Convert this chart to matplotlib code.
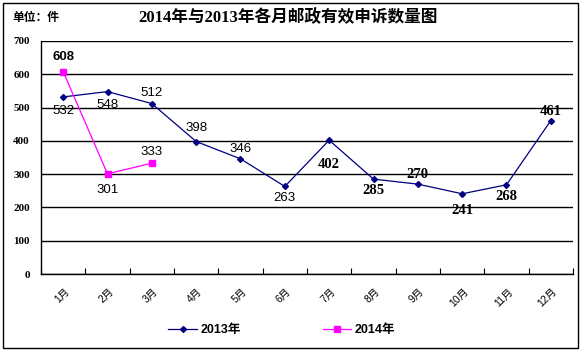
import matplotlib
matplotlib.use("Agg")
import matplotlib.pyplot as plt
from matplotlib.patches import Rectangle

# -------------------------------
# Datos
# -------------------------------
months = ["1月", "2月", "3月", "4月", "5月", "6月", "7月", "8月", "9月", "10月", "11月", "12月"]
v2013 = [532, 548, 512, 398, 346, 263, 402, 285, 270, 241, 268, 461]
v2014 = [608, 301, 333]
yticks = [0, 100, 200, 300, 400, 500, 600, 700]

# label offsets (pixels): + above, - below
off2013 = [-14, -13, 11, 14, 10, -12, -24, -11, 10, -17, -12, 9]
off2014 = [15, -16, 11]

plt.rcParams['font.family'] = ['Liberation Sans', 'Noto Sans CJK SC']

fig = plt.figure(figsize=(5.81, 3.51), dpi=100)
ax = fig.add_axes([41 / 581, 1 - 274 / 351, 532 / 581, 233 / 351])

x13 = list(range(len(v2013)))
x14 = list(range(len(v2014)))
ax.plot(x13, v2013, color="#000080", lw=0.9, marker="D", ms=3, label="2013年", zorder=3)
ax.plot(x14, v2014, color="#FF00FF", lw=0.9, marker="s", ms=4.5, label="2014年", zorder=3)

# -------------------------------
# Etiquetas de datos
# -------------------------------
for i, v in enumerate(v2013):
    if i < 6:
        ax.annotate(str(v), (i, v), xytext=(0, off2013[i]), textcoords="offset pixels",
                    ha="center", va="center", fontsize=9.5, family=['Liberation Sans'])
    else:
        ax.annotate(str(v), (i, v), xytext=(0, off2013[i]), textcoords="offset pixels",
                    ha="center", va="center", fontsize=10.5, family=['Liberation Serif'], weight='bold')
for i, v in enumerate(v2014):
    ax.annotate(str(v), (i, v), xytext=(0, off2014[i]), textcoords="offset pixels",
                ha="center", va="center", fontsize=9.5, family=['Liberation Sans'],
                weight='bold' if i == 0 else 'normal')

ax.set_xlim(-0.5, len(months) - 0.5)
ax.set_ylim(0, 700)
ax.set_yticks(yticks)
ax.set_yticklabels([str(t) for t in yticks], family=['Liberation Serif'], weight='bold', fontsize=8)
ax.yaxis.grid(True, color="black", lw=1)
ax.set_axisbelow(True)
ax.tick_params(axis="y", length=0, pad=8)

ax.set_xticks([k + 0.5 for k in range(-1, len(months))])
ax.set_xticklabels([])
ax.tick_params(axis="x", direction="in", length=4, width=0.8)
for i, m in enumerate(months):
    ax.annotate(m, (i, 0), xytext=(1, -12), textcoords="offset pixels",
                rotation=45, rotation_mode="anchor", ha="right", va="top",
                fontsize=7.5, annotation_clip=False)

for s in ["top", "right"]:
    ax.spines[s].set_visible(False)
ax.spines["left"].set_linewidth(1)
ax.spines["bottom"].set_linewidth(1)

fig.text(288 / 581, 1 - 18 / 351, "2014年与2013年各月邮政有效申诉数量图", ha="center", va="center",
         fontsize=12, weight="bold", family=['Liberation Serif', 'Noto Sans CJK SC'])
fig.text(12 / 581, 1 - 18 / 351, "单位：件", ha="left", va="center", fontsize=8.5,
         weight="bold", family=['Noto Sans CJK SC'])

fig.legend(loc="center", bbox_to_anchor=(282 / 581, 1 - 330 / 351), ncol=2, frameon=False,
           prop={"size": 9, "weight": "bold", "family": ['Liberation Sans', 'Noto Sans CJK SC']},
           handlelength=2.3, columnspacing=6.5, handletextpad=0.3)

fig.patches.append(Rectangle((3 / 581, 3 / 351), 575 / 581, 345 / 351, transform=fig.transFigure,
                             fill=False, edgecolor="black", lw=1))

fig.savefig("out.png", dpi=100)
